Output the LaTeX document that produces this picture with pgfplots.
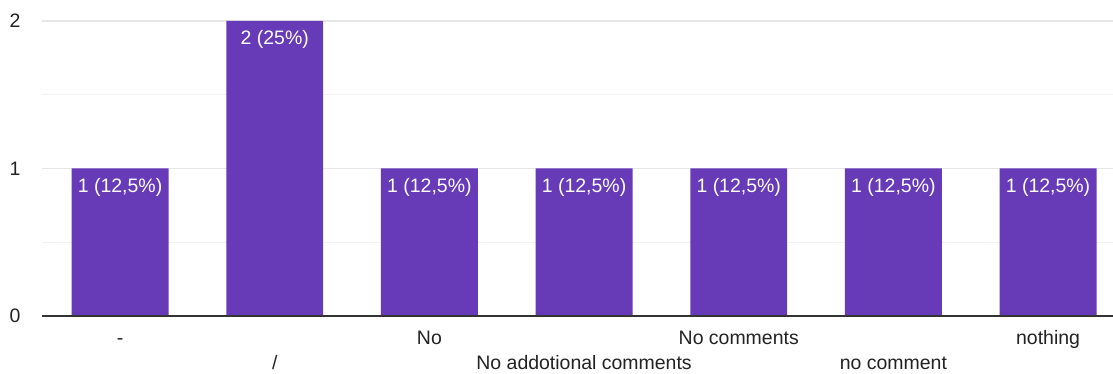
\documentclass[border=0pt]{standalone}
\usepackage{pgfplots}
\pgfplotsset{compat=1.18}
\usepackage{fontspec}
\setmainfont{Liberation Sans}
\definecolor{barc}{HTML}{673AB7}
\definecolor{tickc}{HTML}{222222}
\definecolor{majg}{HTML}{E6E6E6}
\definecolor{ming}{HTML}{F3F3F3}
\definecolor{axc}{HTML}{333333}
\begin{document}
\begin{tikzpicture}
\useasboundingbox (0,0) rectangle (834.75pt,280.5pt);
\begin{axis}[
  at={(31.5pt,43.5pt)}, anchor=south west,
  scale only axis, width=803.25pt, height=221.25pt,
  xmin=-0.505, xmax=6.42, ymin=0, ymax=2,
  axis line style={draw=none},
  clip=false,
  /pgf/number format/assume math mode=true,
  xtick={0,1,2,3,4,5,6},
  xticklabels={-,\raisebox{-18.75pt}{/},No,\raisebox{-18.75pt}{No addotional comments},No comments,\raisebox{-18.75pt}{no comment},nothing},
  xticklabel style={font=\fontsize{14.6pt}{17pt}\selectfont, text=tickc, anchor=base, yshift=-21.75pt, inner sep=0pt},
  ytick={0,1,2}, minor ytick={0.5,1.5},
  yticklabel style={font=\fontsize{14.6pt}{17pt}\selectfont, text=tickc, anchor=east, xshift=-16pt, inner sep=0pt},
  major tick length=0pt, minor tick length=0pt,
  ymajorgrids, yminorgrids,
  major grid style={color=majg, line width=0.8pt},
  minor grid style={color=ming, line width=0.8pt},
  ybar, bar width=0.627,
  nodes near coords,
  point meta=explicit symbolic,
  nodes near coords style={font=\fontsize{14.6pt}{17pt}\selectfont, text=white, anchor=base, yshift=-18pt, inner sep=0pt},
]
\addplot[fill=barc, draw=none] coordinates {
  (0,1) [{1 (12,5\%)}]
  (1,2) [{2 (25\%)}]
  (2,1) [{1 (12,5\%)}]
  (3,1) [{1 (12,5\%)}]
  (4,1) [{1 (12,5\%)}]
  (5,1) [{1 (12,5\%)}]
  (6,1) [{1 (12,5\%)}]
};
\draw[axc, line width=1.1pt] (axis cs:-0.505,0) -- (axis cs:6.42,0);
\end{axis}
\end{tikzpicture}
\end{document}
